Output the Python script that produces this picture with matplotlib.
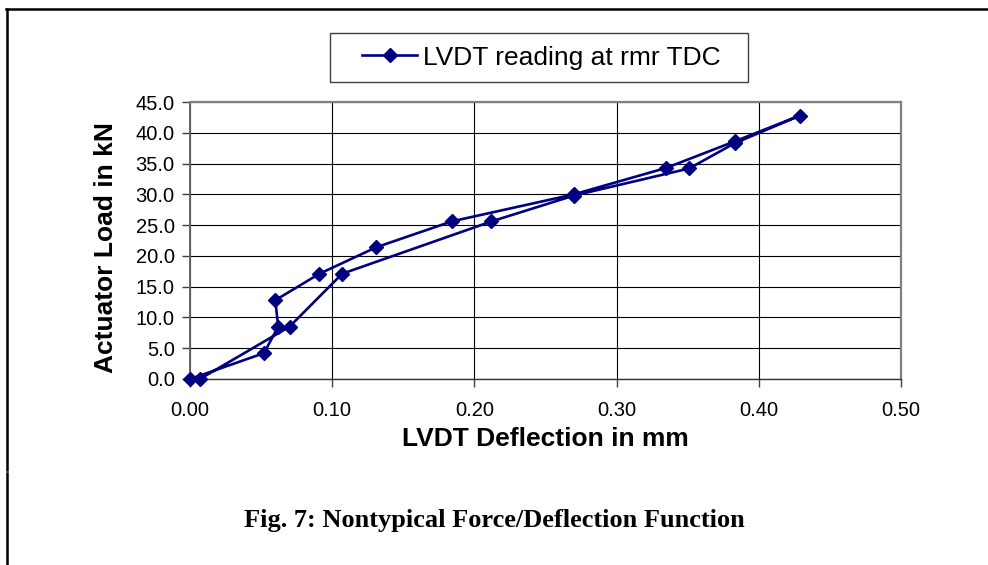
import numpy as np
import matplotlib
matplotlib.use("Agg")
import matplotlib.pyplot as plt
from matplotlib.lines import Line2D
from matplotlib.patches import Rectangle
from matplotlib.ticker import FormatStrFormatter

# loading branch then unloading branch
deflection = [0.000, 0.052, 0.062, 0.060, 0.091, 0.131, 0.184, 0.270, 0.335, 0.383, 0.429,
              0.383, 0.351, 0.270, 0.212, 0.107, 0.070, 0.007]
load = [0.0, 4.2, 8.5, 12.8, 17.1, 21.4, 25.6, 30.0, 34.3, 38.6, 42.8,
        38.3, 34.2, 29.8, 25.6, 17.1, 8.5, 0.0]

x_ticks = [0.0, 0.1, 0.2, 0.3, 0.4, 0.5]
y_ticks = [0, 5, 10, 15, 20, 25, 30, 35, 40, 45]

series_name = "LVDT reading at rmr TDC"
x_label = "LVDT Deflection in mm"
y_label = "Actuator Load in kN"
caption = "Fig. 7: Nontypical Force/Deflection Function"

plt.rcParams['font.family'] = ['Liberation Sans', 'DejaVu Sans']

W, H = 988, 565
fig = plt.figure(figsize=(W / 100, H / 100), dpi=100)
# plot area in pixel coords: x 190..901, y 102..379
ax = fig.add_axes([190 / W, 1 - 379 / H, (901 - 190) / W, (379 - 102) / H])

ax.plot(deflection, load, color='#000080', lw=1.9, marker='D', markersize=7,
        markeredgewidth=1, label=series_name, zorder=3, clip_on=False)

ax.set_xlim(0, 0.5)
ax.set_ylim(0, 45)
ax.set_xticks(x_ticks)
ax.set_yticks(y_ticks)
ax.xaxis.set_major_formatter(FormatStrFormatter('%.2f'))
ax.yaxis.set_major_formatter(FormatStrFormatter('%.1f'))
ax.tick_params(axis='both', direction='out', length=6, width=1, labelsize=14.5,
               color='#404040')
ax.tick_params(axis='x', pad=10)
ax.tick_params(axis='y', pad=5)
ax.grid(True, color='black', lw=0.8)
ax.set_axisbelow(True)

for side in ('top', 'right'):
    ax.spines[side].set_color('#808080')
    ax.spines[side].set_linewidth(1.6)
ax.spines['left'].set_color('#606060')
ax.spines['left'].set_linewidth(1.3)
ax.spines['bottom'].set_color('#303030')
ax.spines['bottom'].set_linewidth(1.0)

ax.set_xlabel(x_label, fontsize=19, fontweight='bold', labelpad=5)
ax.set_ylabel(y_label, fontsize=19, fontweight='bold')
ax.yaxis.set_label_coords(-0.101, 0.473)

# legend without its own frame; frame drawn as a box of the reference size
leg = fig.legend(loc='center', bbox_to_anchor=((330 + 748) / 2 / W + 0.002, 1 - (33 + 82) / 2 / H),
                 fontsize=19, frameon=False, handlelength=2.1,
                 handletextpad=0.2, borderpad=0.3, borderaxespad=0)
fig.add_artist(Rectangle((330 / W, 1 - 82 / H), (748 - 330) / W, (82 - 33) / H,
                         transform=fig.transFigure, fill=False,
                         edgecolor='#404040', lw=1.0))

fig.text(494 / W, 1 - 521 / H, caption, ha='center', va='center', fontsize=19,
         fontweight='bold', family='Liberation Serif')

# page frame lines around the figure
lw_frame = 1.8
fig.add_artist(Line2D([6 / W, 1.0], [1 - 9 / H, 1 - 9 / H], color='black', lw=lw_frame))
fig.add_artist(Line2D([7 / W, 7 / W], [1 - 9 / H, 1 - 470 / H], color='black', lw=lw_frame))
fig.add_artist(Line2D([7 / W, 7 / W], [1 - 473 / H, 0.0], color='black', lw=lw_frame))

fig.savefig('out.png', dpi=100)
